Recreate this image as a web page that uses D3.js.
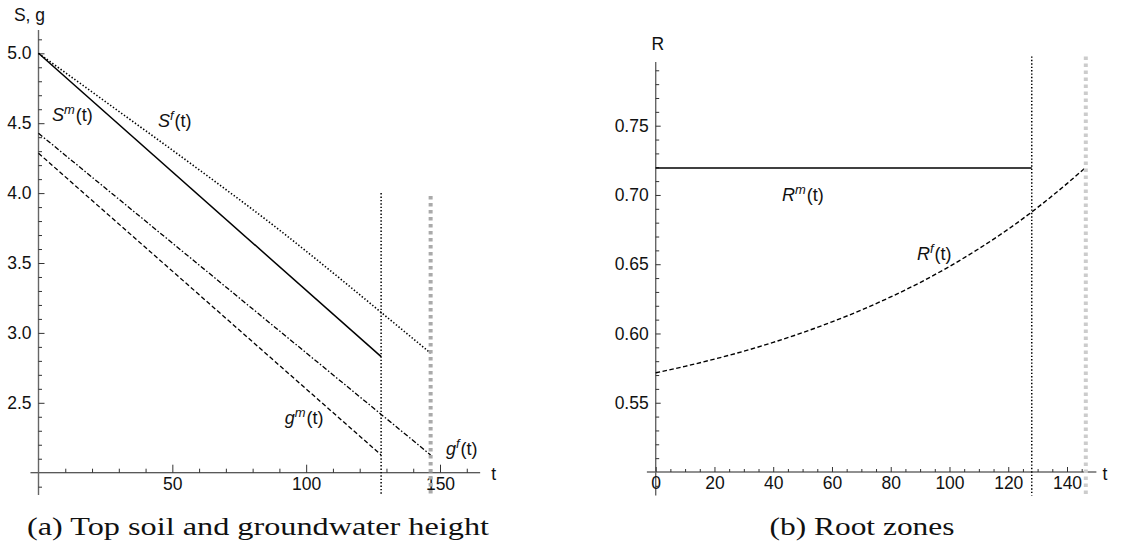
<!DOCTYPE html>
<html><head><meta charset="utf-8">
<script src="https://cdn.jsdelivr.net/npm/d3@7"></script>
<style>
body{margin:0;background:#fff;}
svg text{font-family:"Liberation Sans",Arial,sans-serif;fill:#111;}
</style></head>
<body><svg id="c" width="1122" height="550"></svg>
<script>
// ---------- data ----------
const tMale = 128, tFemale = 146.5;
// left panel
const sfT = [0, 30, 60, 90, 110, 128, 146.5];
const sfV = [5.0, 4.585, 4.167, 3.736, 3.43, 3.147, 2.855];
const smT = [0, 128];
const smV = [5.0, 2.83];
const gfT = [0, 146.5];
const gfV = [4.428, 2.127];
const gmT = [0, 128];
const gmV = [4.285, 2.127];
const leftXMajor = [50, 100, 150];
const leftYMajor = [2.5, 3.0, 3.5, 4.0, 4.5, 5.0];
// right panel
const rmT = [0, 128];
const rmV = [0.7195, 0.7195];
const rfT = [0, 10, 20, 30, 40, 50, 60, 70, 80, 90, 100, 110, 120, 128, 140, 146.4];
const rfV = [0.5716, 0.5763, 0.5815, 0.5872, 0.5936, 0.6006, 0.6084, 0.6169, 0.6264, 0.6368, 0.6484, 0.6612, 0.6753, 0.6877, 0.7082, 0.7200];
const rightXMajor = [0, 20, 40, 60, 80, 100, 120, 140];
const rightYMajor = [0.55, 0.60, 0.65, 0.70, 0.75];
const captions = ["(a) Top soil and groundwater height", "(b) Root zones"];

const svg = d3.select("#c");
const zip = (a, b) => a.map((v, i) => [v, b[i]]);

// ---------- scales ----------
const xL = d3.scaleLinear().domain([0, 150]).range([38.5, 440]);
const yL = d3.scaleLinear().domain([2, 5]).range([472.7, 53.3]);
const xR = d3.scaleLinear().domain([0, 140]).range([655.7, 1067]);
const yR = d3.scaleLinear().domain([0.5, 0.75]).range([472, 125.7]);

function axes(g, x, y, xMaj, xMin, yMaj, yMin, xExt, yExt, xfmt, yfmt, xTick, yTick) {
  g.append("line").attr("x1", x(xExt[0])).attr("x2", x(xExt[1]))
    .attr("y1", y(y.domain()[0])).attr("y2", y(y.domain()[0]))
    .attr("stroke", "#222").attr("stroke-width", 1.1);
  g.append("line").attr("x1", x(0)).attr("x2", x(0))
    .attr("y1", y(yExt[0])).attr("y2", y(yExt[1]))
    .attr("stroke", "#666").attr("stroke-width", 1.4);
  const xg = g.append("g").attr("transform", `translate(0,${y(y.domain()[0])})`);
  xg.call(d3.axisBottom(x).tickValues(xMin).tickSizeInner(-xTick[1]).tickSizeOuter(0).tickFormat(""));
  xg.append("g").call(d3.axisBottom(x).tickValues(xMaj).tickSizeInner(-xTick[0]).tickSizeOuter(0).tickPadding(5).tickFormat(xfmt));
  const yg = g.append("g").attr("transform", `translate(${x(0)},0)`);
  yg.call(d3.axisLeft(y).tickValues(yMin).tickSizeInner(-yTick[1]).tickSizeOuter(0).tickFormat(""));
  yg.append("g").call(d3.axisLeft(y).tickValues(yMaj).tickSizeInner(-yTick[0]).tickSizeOuter(0).tickPadding(5).tickFormat(yfmt));
  g.selectAll(".domain").remove();
  g.selectAll(".tick line").attr("stroke", "#333").attr("stroke-width", 1);
  g.selectAll(".tick text").attr("font-size", 17.5).attr("fill", "#111")
    .attr("font-family", '"Liberation Sans",Arial,sans-serif');
  yg.selectAll(".tick text").attr("dx", -2);
}

function label(g, x, y, base, sup, rest, size) {
  const t = g.append("text").attr("x", x).attr("y", y).attr("font-size", size);
  t.append("tspan").attr("font-style", "italic").text(base);
  t.append("tspan").attr("font-style", "italic").attr("font-size", size * 0.72).attr("dy", -7).text(sup);
  t.append("tspan").attr("dy", 7).attr("dx", 1).text(rest);
}

const line = (x, y, curve) => d3.line().x(d => x(d[0])).y(d => y(d[1])).curve(curve || d3.curveLinear);

// ---------- left panel ----------
const L = svg.append("g");
const lxMin = d3.range(10, 170, 10).filter(v => v % 50 !== 0);
const lyMin = d3.range(19, 52, 1).map(v => v / 10).filter(v => Math.round(v * 10) % 5 !== 0);
axes(L, xL, yL, leftXMajor, lxMin, leftYMajor, lyMin, [-3, 165], [1.84, 5.167],
  d3.format("d"), d3.format(".1f"), [8, 4], [6, 3.5]);

L.append("path").datum(zip(smT, smV)).attr("d", line(xL, yL))
  .attr("fill", "none").attr("stroke", "#000").attr("stroke-width", 1.5);
L.append("path").datum(zip(sfT, sfV)).attr("d", line(xL, yL, d3.curveMonotoneX))
  .attr("fill", "none").attr("stroke", "#000").attr("stroke-width", 1.6).attr("stroke-dasharray", "1.4,2");
L.append("path").datum(zip(gfT, gfV)).attr("d", line(xL, yL))
  .attr("fill", "none").attr("stroke", "#000").attr("stroke-width", 1.3).attr("stroke-dasharray", "5,2,1.5,2");
L.append("path").datum(zip(gmT, gmV)).attr("d", line(xL, yL))
  .attr("fill", "none").attr("stroke", "#000").attr("stroke-width", 1.3).attr("stroke-dasharray", "4.5,2.5");
L.append("line").attr("x1", xL(tMale)).attr("x2", xL(tMale)).attr("y1", yL(4.0)).attr("y2", yL(1.84))
  .attr("stroke", "#000").attr("stroke-width", 1.5).attr("stroke-dasharray", "1.4,2");
L.append("line").attr("x1", xL(tFemale)).attr("x2", xL(tFemale)).attr("y1", yL(3.98)).attr("y2", yL(1.84))
  .attr("stroke", "#aaa").attr("stroke-width", 4).attr("stroke-dasharray", "3.5,3.5");

label(L, xL(5), yL(4.516), "S", "m", "(t)", 18);
label(L, xL(44.6), yL(4.473), "S", "f", "(t)", 18);
label(L, xL(92), yL(2.35), "g", "m", "(t)", 18);
label(L, xL(152.2), yL(2.127), "g", "f", "(t)", 18);
L.append("text").attr("x", xL(0) - 9).attr("y", 21).attr("text-anchor", "middle").attr("font-size", 17.5).text("S, g");
L.append("text").attr("x", xL(165) + 11).attr("y", yL(2) + 7).attr("font-size", 17.5).text("t");

// ---------- right panel ----------
const R = svg.append("g");
const rxMin = d3.range(5, 150, 5).filter(v => v % 20 !== 0);
const ryMin = d3.range(49, 80, 1).map(v => v / 100).filter(v => Math.round(v * 100) % 5 !== 0);
axes(R, xR, yR, rightXMajor, rxMin, rightYMajor, ryMin, [-3, 150], [0.483, 0.796],
  d3.format("d"), d3.format(".2f"), [5, 3], [5, 3.5]);

R.append("path").datum(zip(rmT, rmV)).attr("d", line(xR, yR))
  .attr("fill", "none").attr("stroke", "#000").attr("stroke-width", 1.5);
R.append("path").datum(zip(rfT, rfV)).attr("d", line(xR, yR, d3.curveMonotoneX))
  .attr("fill", "none").attr("stroke", "#000").attr("stroke-width", 1.4).attr("stroke-dasharray", "4.5,2.5");
R.append("line").attr("x1", xR(tMale)).attr("x2", xR(tMale)).attr("y1", yR(0.80)).attr("y2", yR(0.483))
  .attr("stroke", "#000").attr("stroke-width", 1.5).attr("stroke-dasharray", "1.4,2");
R.append("line").attr("x1", xR(146.4)).attr("x2", xR(146.4)).attr("y1", yR(0.80)).attr("y2", yR(0.483))
  .attr("stroke", "#ccc").attr("stroke-width", 4).attr("stroke-dasharray", "3.5,3.5");

label(R, xR(43), yR(0.696), "R", "m", "(t)", 18);
label(R, xR(88.9), yR(0.653), "R", "f", "(t)", 18);
R.append("text").attr("x", xR(0) + 2).attr("y", 50).attr("text-anchor", "middle").attr("font-size", 17.5).text("R");
R.append("text").attr("x", xR(150) + 6).attr("y", yR(0.5) + 8).attr("font-size", 17.5).text("t");

// ---------- captions ----------
const capX = [258, 862], capW = [462, 185];
captions.forEach((c, i) => {
  svg.append("text").attr("x", capX[i]).attr("y", 535).attr("text-anchor", "middle")
    .attr("font-size", 24.5)
    .attr("textLength", capW[i]).attr("lengthAdjust", "spacingAndGlyphs")
    .style("font-family", '"Liberation Serif","Times New Roman",serif').text(c);
});
</script></body></html>
